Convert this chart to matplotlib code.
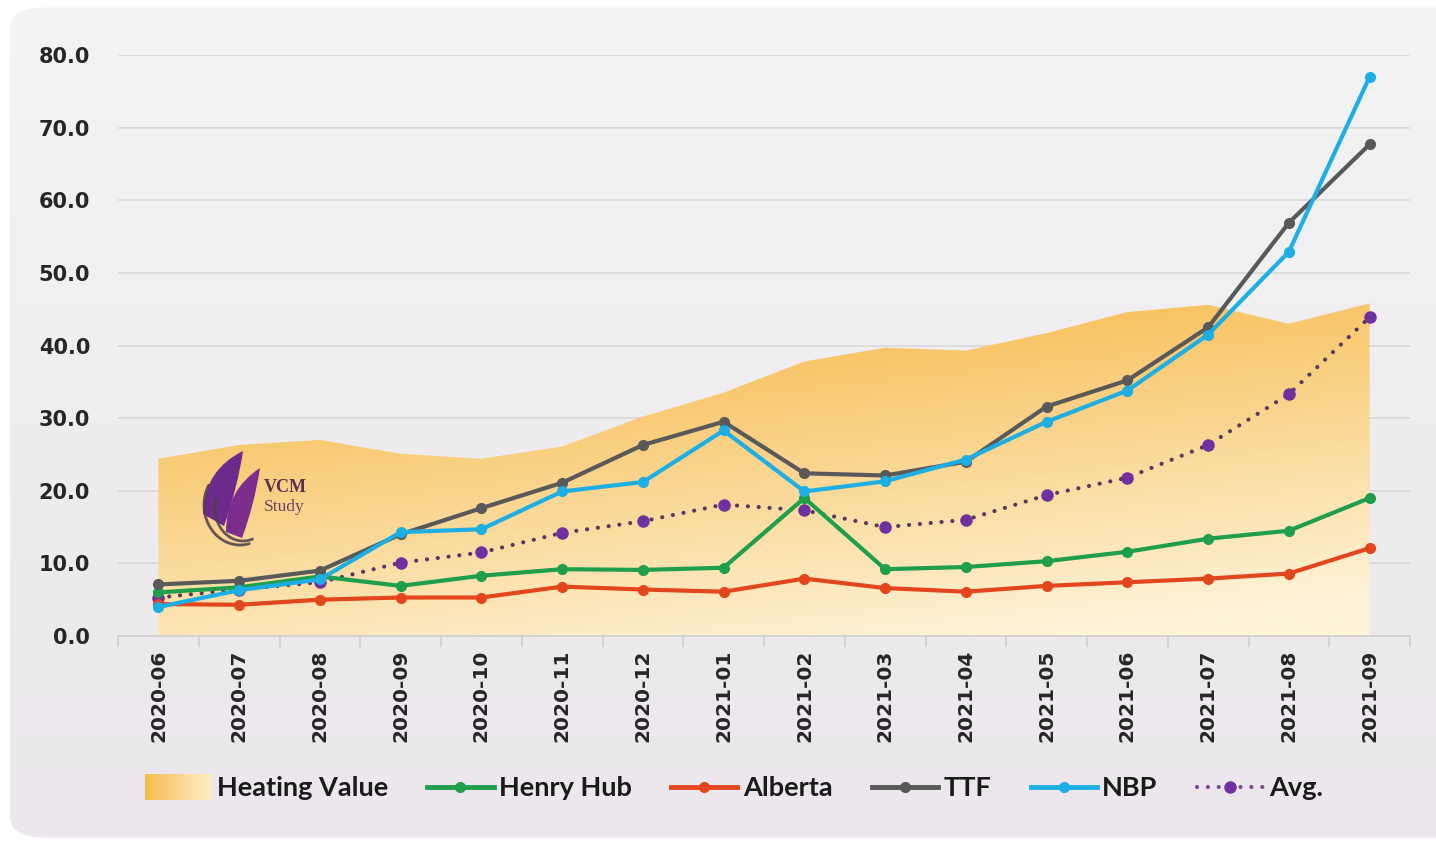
import numpy as np
import matplotlib
matplotlib.use("Agg")
import matplotlib.pyplot as plt
from matplotlib.patches import Rectangle, FancyBboxPatch, PathPatch
from matplotlib.path import Path
from matplotlib.legend_handler import HandlerBase
from matplotlib.lines import Line2D
from matplotlib.colors import LinearSegmentedColormap, to_rgb

# data
months = ["2020-06", "2020-07", "2020-08", "2020-09", "2020-10", "2020-11",
          "2020-12", "2021-01", "2021-02", "2021-03", "2021-04", "2021-05",
          "2021-06", "2021-07", "2021-08", "2021-09"]
heating_value = [24.4, 26.3, 27.0, 25.1, 24.4, 26.1, 30.2, 33.5, 37.8, 39.7,
                 39.3, 41.7, 44.6, 45.6, 43.0, 45.8]
henry_hub = [6.0, 6.7, 8.2, 6.9, 8.3, 9.2, 9.1, 9.4, 19.0, 9.2, 9.5, 10.3,
             11.6, 13.4, 14.5, 19.0]
alberta = [4.4, 4.3, 5.0, 5.3, 5.3, 6.8, 6.4, 6.1, 7.9, 6.6, 6.1, 6.9, 7.4,
           7.9, 8.6, 12.1]
ttf = [7.1, 7.6, 9.0, 14.0, 17.6, 21.1, 26.3, 29.5, 22.4, 22.1, 24.0, 31.6,
       35.2, 42.5, 56.9, 67.7]
nbp = [4.0, 6.3, 7.8, 14.3, 14.7, 19.9, 21.2, 28.3, 19.9, 21.3, 24.3, 29.5,
       33.8, 41.5, 52.9, 77.0]
avg = [5.3, 6.4, 7.4, 10.1, 11.5, 14.2, 15.8, 18.1, 17.3, 15.0, 16.0, 19.4,
       21.8, 26.3, 33.3, 43.9]
yticks = [0, 10, 20, 30, 40, 50, 60, 70, 80]

GREEN = "#1f9e4b"
RED = "#e2461c"
GRAY = "#595959"
BLUE = "#1daee3"
PURPLE = "#7030a0"
AREA_TOP = np.array(to_rgb("#f7bb4f"))
AREA_BOT = np.array(to_rgb("#fef3d8"))

W, H = 1436, 841
AX_L, AX_R, AX_T, AX_B = 118, 1410, 55, 636


class GradientHandler(HandlerBase):
    # horizontal orange gradient swatch for the area series
    def create_artists(self, legend, orig_handle, xdescent, ydescent,
                       width, height, fontsize, trans):
        n = 24
        c1 = np.array(to_rgb("#fdecc6"))
        out = []
        for i in range(n):
            t = i / (n - 1)
            out.append(Rectangle((-xdescent + i * width / n, -ydescent - 3),
                                 width / n + 0.5, height + 5,
                                 facecolor=AREA_TOP * (1 - t) + c1 * t,
                                 edgecolor="none", transform=trans))
        return out


def px(x, y):
    # reference pixel -> axes fraction (only used for the logo)
    return ((x - AX_L) / (AX_R - AX_L), (AX_B - y) / (AX_B - AX_T))


fig = plt.figure(figsize=(W / 100, H / 100), dpi=100)
fig.patch.set_facecolor("white")

# rounded panel background
bg = fig.add_axes([0, 0, 1, 1], zorder=-5)
bg.set_xlim(0, 1)
bg.set_ylim(0, 1)
bg.axis("off")
bg_cmap = LinearSegmentedColormap.from_list("bg", ["#ebe7ec", "#efedf0", "#f4f4f4"])
grad = np.linspace(0, 1, 256).reshape(-1, 1)
im_bg = bg.imshow(grad, extent=[0, 1, 0, 1], origin="lower", aspect="auto", cmap=bg_cmap)
panel = FancyBboxPatch((0.007, 0.004), 1.02, 0.987,
                       boxstyle="round,pad=0,rounding_size=0.025",
                       facecolor="none", edgecolor="none", transform=bg.transAxes)
bg.add_patch(panel)
im_bg.set_clip_path(panel)

ax = fig.add_axes([AX_L / W, 1 - AX_B / H, (AX_R - AX_L) / W, (AX_B - AX_T) / H])
ax.set_facecolor("none")
x = np.arange(len(months))
top = max(heating_value)

# heating value area, shaded darker at the top and toward the left
area = ax.fill_between(x, 0, heating_value, facecolor="none", edgecolor="none")
vv, hh = np.mgrid[0:1:200j, 0:1:300j]
s = np.clip(vv * 0.9 + 0.35 * (1 - hh) - 0.1, 0, 1)[..., None]
shade = AREA_BOT * (1 - s) + AREA_TOP * s
im = ax.imshow(shade, extent=[0, len(months) - 1, 0, top], origin="lower",
               aspect="auto", zorder=1)
im.set_clip_path(area.get_paths()[0], transform=ax.transData)


# logo: two leaning purple flame bands, grey swooshes, text
def band(p0, c0, tip, c1, p1):
    verts = [px(*p0), px(*c0), px(*tip), px(*c1), px(*p1), px(*p0)]
    codes = [Path.MOVETO, Path.CURVE3, Path.CURVE3, Path.CURVE3, Path.CURVE3, Path.CLOSEPOLY]
    return Path(verts, codes)

ax.add_patch(PathPatch(band((203, 514), (204, 470), (243, 451), (238, 486), (224, 526)),
                       facecolor="#6b2a8c", edgecolor="none", transform=ax.transAxes, zorder=2))
ax.add_patch(PathPatch(band((226, 532), (226, 490), (260, 468), (254, 506), (242, 538)),
                       facecolor="#7d2d8e", edgecolor="none", transform=ax.transAxes, zorder=2))
for (cx, cy, rx, ry, a0, a1) in [(240, 505, 36, 40, 150, 285), (243, 508, 28, 33, 165, 290)]:
    t = np.radians(np.linspace(a0, a1, 50))
    pts = np.array([px(cx + rx * np.cos(a), cy - ry * np.sin(a)) for a in t])
    ax.plot(pts[:, 0], pts[:, 1], color="#4f3d47", lw=2, alpha=0.85,
            transform=ax.transAxes, zorder=2, solid_capstyle="round")
lx, ly = px(264, 487)
ax.text(lx, ly, "VCM", transform=ax.transAxes, fontsize=13, fontweight="bold",
        family="Liberation Serif", color="#5a3050", zorder=2, va="center")
lx, ly = px(264, 507)
ax.text(lx, ly, "Study", transform=ax.transAxes, fontsize=12.5,
        family="Liberation Serif", color="#6a4560", zorder=2, va="center")

# series
ax.plot(x, henry_hub, color=GREEN, lw=3, marker="o", ms=7, zorder=4)
ax.plot(x, alberta, color=RED, lw=3, marker="o", ms=7, zorder=4)
ax.plot(x, ttf, color=GRAY, lw=3, marker="o", ms=7, zorder=5)
ax.plot(x, nbp, color=BLUE, lw=3, marker="o", ms=7, zorder=6)
ax.plot(x, avg, color="#55385f", lw=3, linestyle=(0, (0.01, 2.6)),
        dash_capstyle="round", zorder=3)
ax.plot(x, avg, color=PURPLE, lw=0, marker="o", ms=8, zorder=3)

ax.set_xlim(-0.5, len(months) - 0.5)
ax.set_ylim(0, 80)
ax.set_yticks(yticks)
ax.set_yticklabels([f"{v:.1f}" for v in yticks], fontsize=15, fontweight="bold",
                   family="DejaVu Sans", color="#262626")
ax.tick_params(axis="y", length=0, pad=20)
ax.grid(axis="y", color="#d9d9d9", lw=1.2, zorder=0)
ax.set_axisbelow(True)

ax.set_xticks(x)
ax.set_xticklabels(months, rotation=90, fontsize=14.5, fontweight="bold",
                   family="DejaVu Sans", color="#262626")
ax.set_xticks(np.arange(-0.5, len(months)), minor=True)
ax.tick_params(axis="x", which="major", length=0, pad=10)
ax.tick_params(axis="x", which="minor", length=8, color="#cfcfcf", width=1.2)
for s_ in ["top", "right", "left"]:
    ax.spines[s_].set_visible(False)
ax.spines["bottom"].set_color("#cfcfcf")
ax.spines["bottom"].set_linewidth(1.2)

handles = [
    Rectangle((0, 0), 1, 1),
    Line2D([], [], color=GREEN, lw=3.5, marker="o", ms=7),
    Line2D([], [], color=RED, lw=3.5, marker="o", ms=7),
    Line2D([], [], color=GRAY, lw=3.5, marker="o", ms=7),
    Line2D([], [], color=BLUE, lw=3.5, marker="o", ms=7),
    Line2D([], [], color="#7a4a90", lw=3, linestyle=(0, (0.01, 2.6)),
           dash_capstyle="round", marker="o", ms=8, mfc=PURPLE, mec=PURPLE),
]
labels = ["Heating Value", "Henry Hub", "Alberta", "TTF", "NBP", "Avg."]
leg = fig.legend(handles, labels, loc="center", bbox_to_anchor=(0.511, 0.063), ncol=6,
                 frameon=False, handler_map={Rectangle: GradientHandler()},
                 prop={"family": "Lato", "weight": "bold", "size": 19.5},
                 handlelength=2.45, handletextpad=0.2, columnspacing=1.45)
for t in leg.get_texts():
    t.set_color("#1a1a1a")

fig.savefig("out.png", dpi=100)
